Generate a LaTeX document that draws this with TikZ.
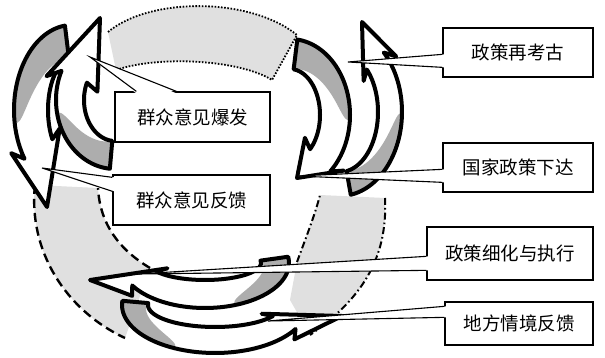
\documentclass[tikz,border=0pt]{standalone}
\usepackage{fontspec}
\newfontfamily\cjk{Noto Sans CJK SC}
\usetikzlibrary{calc,shadows}
\definecolor{bandgray}{gray}{0.88}
\definecolor{tailgray}{gray}{0.68}
\def\caBarb{1.6}
\def\caSweep{8}
% #1 cx #2 cy #3 rx #4 ry #5 half width #6 tail angle #7 head angle #8 gray end angle #9 tip
\newcommand\carrow[9]{%
  \pgfmathsetmacro\caSg{sign((#7)-(#6))}%
  \pgfmathsetmacro\caBa{(#7)-\caSg*\caSweep}%
  \def\caPath{plot[domain=#6:#7,samples=50] ({#1+(#3+#5)*cos(\x)},{#2+(#4+#5)*sin(\x)})
     -- ({#1+(#3+#5*\caBarb)*cos(\caBa)},{#2+(#4+#5*\caBarb)*sin(\caBa)})
     -- #9
     -- ({#1+(#3-#5*\caBarb)*cos(\caBa)},{#2+(#4-#5*\caBarb)*sin(\caBa)})
     -- plot[domain=#7:#6,samples=50] ({#1+(#3-#5)*cos(\x)},{#2+(#4-#5)*sin(\x)}) -- cycle}%
  \fill[white] \caPath;
  \fill[tailgray] plot[domain=#6:#8,samples=40] ({#1+(#3+#5)*cos(\x)},{#2+(#4+#5)*sin(\x)})
     -- plot[domain=#8:#6,samples=40] ({#1+(#3+#5-2*#5*sqrt(abs((\x-(#8))/((#6)-(#8)))))*cos(\x)},{#2+(#4+#5-2*#5*sqrt(abs((\x-(#8))/((#6)-(#8)))))*sin(\x)}) -- cycle;
  \draw[arrowline] \caPath;
}
\begin{document}
\begin{tikzpicture}[x=1pt,y=-1pt,
  arrowline/.style={line width=4pt, line join=round, draw=black},
  bandfill/.style={fill=bandgray},
  dotline/.style={draw=black, line width=1.8pt, dash pattern=on 1.6pt off 1.6pt},
  dashline/.style={draw=black, line width=2.4pt, dash pattern=on 9pt off 5pt},
  dashdotline/.style={draw=black, line width=2pt, dash pattern=on 7pt off 3pt on 1.6pt off 3pt},
  callout/.style={draw=black, line width=1.3pt, fill=white, inner sep=0pt,
     font=\cjk\fontsize{18.5}{22}\selectfont,
     drop shadow={shadow xshift=1.4pt, shadow yshift=-1.4pt, opacity=1, fill=black}},
  wedgeline/.style={draw=black, line width=1.1pt}]
\useasboundingbox (0,0) rectangle (605,358);
\fill[white] (0,0) rectangle (605,358);

% gray bands of the big ring
\fill[bandfill] (108,32) .. controls (150,-3) and (250,-3) .. (297,35) -- (272,80) .. controls (240,60) and (160,55) .. (116,70) -- cycle;
\draw[dotline] (108,32) .. controls (150,-3) and (250,-3) .. (297,35) -- (272,80) .. controls (240,60) and (160,55) .. (116,70);
\fill[bandfill] (35,185) .. controls (28,250) and (65,310) .. (125,338) -- (150,268) .. controls (120,250) and (100,225) .. (98,188) -- cycle;
\draw[dashline] (35,185) .. controls (28,250) and (65,310) .. (125,338);
\draw[dashline] (150,268) .. controls (120,250) and (100,225) .. (98,188);
\fill[bandfill] (320,195) -- (385,198) .. controls (388,260) and (360,300) .. (310,335) -- (290,300) -- (297,262) .. controls (305,240) and (315,215) .. (320,195) -- cycle;
\draw[dashdotline] (385,198) .. controls (388,260) and (360,300) .. (310,335);
\draw[dashdotline] (297,262) .. controls (305,240) and (315,215) .. (320,195);

% curved arrows
\carrow{72}{110}{41}{68}{17}{-97}{-215}{-190}{(47,207)}
\def\caBarb{1.9}
\carrow{115}{100}{45}{55}{14}{95}{205}{170}{(100,18)}
\def\caBarb{1.7}
\carrow{290}{115}{45}{61}{15}{-83}{48}{5}{(297,178)}
\carrow{340}{112}{50}{72}{12}{80}{-45}{0}{(362,22)}
\def\caBarb{1.6}
\carrow{205}{263}{70}{31}{14}{-8}{150}{70}{(90,280)}
\carrow{215}{305}{80}{35}{13}{185}{30}{115}{(342,316)}

% callout boxes
\node[callout, minimum width=155pt, minimum height=50pt] (b1) at (192.5,117) {群众意见爆发};
\node[callout, minimum width=157pt, minimum height=50pt] (b2) at (191.5,200) {群众意见反馈};
\node[callout, minimum width=150pt, minimum height=49pt] (b3) at (518,52.5) {政策再考古};
\node[callout, minimum width=150pt, minimum height=49pt] (b4) at (518,167.5) {国家政策下达};
\node[callout, minimum width=166pt, minimum height=53pt] (b5) at (510,253.5) {政策细化与执行};
\node[callout, minimum width=148pt, minimum height=43pt] (b6) at (519,323.5) {地方情境反馈};

\coordinate (t1) at (90,57);
\coordinate (t2) at (42,168);
\coordinate (t3) at (348,62);
\coordinate (t4) at (298,176);
\coordinate (t5) at (138,274);
\coordinate (t6) at (268,321);

\fill[white] ($(b1.north west)+(22,2)$) -- (t1) -- ($(b1.north west)+(62,2)$) -- cycle;
\draw[wedgeline] ($(b1.north west)+(22,0)$) -- (t1) -- ($(b1.north west)+(62,0)$);
\fill[white] ($(b2.north west)+(2,3)$) -- (t2) -- ($(b2.north west)+(2,17)$) -- cycle;
\draw[wedgeline] ($(b2.north west)+(0,3)$) -- (t2) -- ($(b2.north west)+(0,17)$);
\fill[white] ($(b3.north west)+(2,27)$) -- (t3) -- ($(b3.north west)+(2,40)$) -- cycle;
\draw[wedgeline] ($(b3.north west)+(0,27)$) -- (t3) -- ($(b3.north west)+(0,40)$);
\fill[white] ($(b4.north west)+(2,27)$) -- (t4) -- ($(b4.north west)+(2,40)$) -- cycle;
\draw[wedgeline] ($(b4.north west)+(0,27)$) -- (t4) -- ($(b4.north west)+(0,40)$);
\fill[white] ($(b5.north west)+(2,30)$) -- (t5) -- ($(b5.north west)+(2,44)$) -- cycle;
\draw[wedgeline] ($(b5.north west)+(0,30)$) -- (t5) -- ($(b5.north west)+(0,44)$);
\fill[white] ($(b6.north west)+(2,5)$) -- (t6) -- ($(b6.north west)+(2,16)$) -- cycle;
\draw[wedgeline] ($(b6.north west)+(0,5)$) -- (t6) -- ($(b6.north west)+(0,16)$);
\end{tikzpicture}
\end{document}
